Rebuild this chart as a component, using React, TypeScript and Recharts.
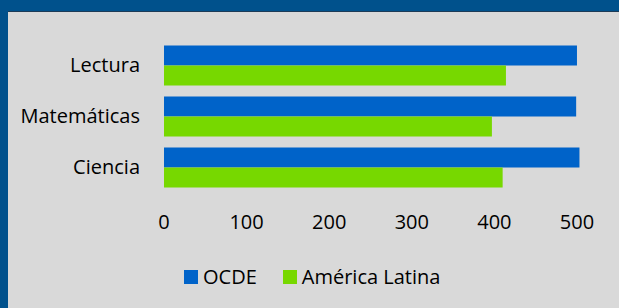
import { Bar, BarChart, XAxis, YAxis } from "recharts";

const FRAME_BLUE = "#00518c";
const PANEL_GRAY = "#d9d9d9";
const OCDE_BLUE = "#0063c9";
const LATAM_GREEN = "#77d800";
const FONT = "'Open Sans', sans-serif";

const subjects = ["Lectura", "Matemáticas", "Ciencia"];
const ocdeScores = [500, 499, 503];
const latamScores = [414, 397, 410];
const xTicks = [0, 100, 200, 300, 400, 500];

const seriesInfo = [
  { key: "ocde", label: "OCDE", color: OCDE_BLUE },
  { key: "latam", label: "América Latina", color: LATAM_GREEN },
];

const data = subjects.map((subject, i) => ({
  subject,
  ocde: ocdeScores[i],
  latam: latamScores[i],
}));

function LegendBox() {
  return (
    <div
      style={{
        position: "absolute",
        left: 184,
        top: 267,
        display: "flex",
        alignItems: "center",
        fontFamily: FONT,
        fontSize: 20,
        lineHeight: "20px",
        color: "#000",
      }}
    >
      {seriesInfo.map((s) => (
        <div key={s.key} style={{ display: "flex", alignItems: "center", marginRight: 26 }}>
          <span style={{ width: 14, height: 14, background: s.color, display: "inline-block", marginRight: 5 }} />
          <span>{s.label}</span>
        </div>
      ))}
    </div>
  );
}

export default function App() {
  return (
    <div style={{ position: "absolute", left: 0, top: 0, width: 619, height: 308, background: FRAME_BLUE, overflow: "hidden" }}>
      <div
        style={{
          position: "absolute",
          left: 8,
          top: 11,
          width: 611,
          height: 297,
          background: PANEL_GRAY,
          borderTop: "1px solid #1c3b57",
        }}
      />
      <div style={{ position: "absolute", left: 0, top: 0 }}>
        <BarChart
          width={619}
          height={308}
          data={data}
          layout="vertical"
          margin={{ top: 39.5, right: 25.5, left: 0, bottom: 75.5 }}
          barSize={20}
          barGap={0}
        >
          <XAxis
            type="number"
            domain={[0, 520]}
            ticks={xTicks}
            axisLine={false}
            tickLine={false}
            tickSize={0}
            tickMargin={22}
            height={40}
            tick={{ fill: "#000", fontSize: 20, fontFamily: FONT }}
          />
          <YAxis
            type="category"
            dataKey="subject"
            width={164}
            axisLine={false}
            tickLine={false}
            tickSize={0}
            tickMargin={24}
            tick={{ fill: "#000", fontSize: 20, fontFamily: FONT }}
          />
          <Bar dataKey="ocde" name="OCDE" fill={OCDE_BLUE} isAnimationActive={false} />
          <Bar dataKey="latam" name="América Latina" fill={LATAM_GREEN} isAnimationActive={false} />
        </BarChart>
      </div>
      <LegendBox />
    </div>
  );
}
